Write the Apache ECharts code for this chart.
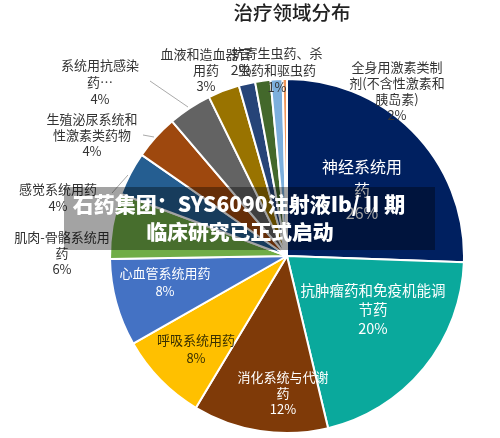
<!DOCTYPE html>
<html>
<head>
<meta charset="utf-8">
<style>html,body{margin:0;padding:0;background:#fff}#main{width:500px;height:438px}</style>
<script src="https://cdn.jsdelivr.net/npm/echarts@6/dist/echarts.min.js"></script>
</head>
<body>
<div id="main"></div>
<script>
var categories = ['神经系统用药', '抗肿瘤药和免疫机能调节药', '消化系统与代谢药', '呼吸系统用药', '心血管系统用药', '肌肉-骨骼系统用药', '感觉系统用药', '生殖泌尿系统和性激素类药物', '系统用抗感染药', '血液和造血器官用药', '皮肤病用药', '全身用激素类制剂(不含性激素和胰岛素)', '抗寄生虫药、杀虫药和驱虫药', '其他'];
var values = [25.7, 20.8, 12.4, 8.2, 8, 6, 4, 4.1, 4, 2.9, 1.5, 1.4, 1.1, 0.4];
var percents = ['26%', '20%', '12%', '8%', '8%', '6%', '4%', '4%', '4%', '3%', '2%', '2%', '1%', ''];
var labelTexts = ['神经系统用\n药', '抗肿瘤药和免疫机能调\n节药', '消化系统与代谢\n药', '呼吸系统用药', '心血管系统用药', '肌肉-骨骼系统用\n药', '感觉系统用药', '生殖泌尿系统和\n性激素类药物', '系统用抗感染\n药…', '血液和造血器官\n用药', '', '全身用激素类制\n剂(不含性激素和\n胰岛素)', '抗寄生虫药、杀\n虫药和驱虫药', ''];
var colors = ['#002060', '#0aa99c', '#7f3a08', '#ffc000', '#4472c4', '#70ad47', '#255e91', '#9e480e', '#636363', '#997300', '#264478', '#43682b', '#7cafdd', '#f1975a'];

// label centres, same order as categories
var labelX = [362, 373, 283, 196, 165, 62, 58, 92, 100, 206, 241, 397, 277, 0];
var labelY = [190, 309, 393, 349, 282, 253, 198, 135, 82, 70, 70, 91, 70, 0];
var labelColor = ['#fff', '#fff', '#fff', '#3a3000', '#fff', '#333', '#333', '#333', '#333', '#333', '#333', '#333', '#333', '#333'];
var labelSize = [16, 14.5, 13, 13, 13, 13, 13, 13, 13, 13, 14, 13, 13, 13];
var labelLh = [23, 19, 16, 18, 18, 16, 17, 16, 17, 16, 16, 16, 17, 16];
var leaderLines = {
    6: [[112, 193], [128, 175]],
    7: [[143, 135], [154, 137]],
    8: [[150, 81], [188, 107]]
};

var myChart = echarts.init(document.getElementById('main'));

myChart.setOption({
    backgroundColor: '#fff',
    animation: false,
    title: {
        text: '治疗领域分布',
        left: 287,
        top: -2,
        textAlign: 'center',
        textStyle: { fontFamily: 'Noto Sans CJK SC', fontSize: 19.5, fontWeight: 500, color: '#222' }
    },
    series: [{
        type: 'pie',
        center: [287, 256],
        radius: [0, 177],
        startAngle: 90,
        avoidLabelOverlap: false,
        itemStyle: { borderColor: '#fff', borderWidth: 2 },
        label: { position: 'outside', fontFamily: 'Noto Sans CJK SC', align: 'center' },
        labelLine: { lineStyle: { color: '#aaa', width: 1 } },
        labelLayout: function (params) {
            var i = params.dataIndex;
            return {
                x: labelX[i],
                y: labelY[i],
                align: 'center',
                verticalAlign: 'middle',
                labelLinePoints: leaderLines[i] ? [leaderLines[i][0], leaderLines[i][0], leaderLines[i][1]] : undefined
            };
        },
        data: categories.map(function (name, i) {
            var text = labelTexts[i] ? labelTexts[i] + '\n' + percents[i] : percents[i];
            return {
                name: name,
                value: values[i],
                itemStyle: { color: colors[i] },
                label: {
                    show: text !== '',
                    formatter: text,
                    color: labelColor[i],
                    fontSize: labelSize[i],
                    lineHeight: labelLh[i]
                },
                labelLine: { show: !!leaderLines[i] }
            };
        })
    }],
    graphic: [{
        type: 'rect',
        z: 100,
        shape: { x: 64, y: 187, width: 371, height: 63 },
        style: { fill: 'rgba(0,0,0,0.36)' }
    }, {
        type: 'text',
        z: 101,
        x: 239,
        y: 204,
        style: { text: '石药集团：SYS6090注射液Ib/ II 期', fill: '#fff', font: '900 21px "Noto Sans CJK SC"', align: 'center', verticalAlign: 'middle' }
    }, {
        type: 'text',
        z: 101,
        x: 240,
        y: 232,
        style: { text: '临床研究已正式启动', fill: '#fff', font: '900 20.8px "Noto Sans CJK SC"', align: 'center', verticalAlign: 'middle' }
    }]
});
</script>
</body>
</html>
